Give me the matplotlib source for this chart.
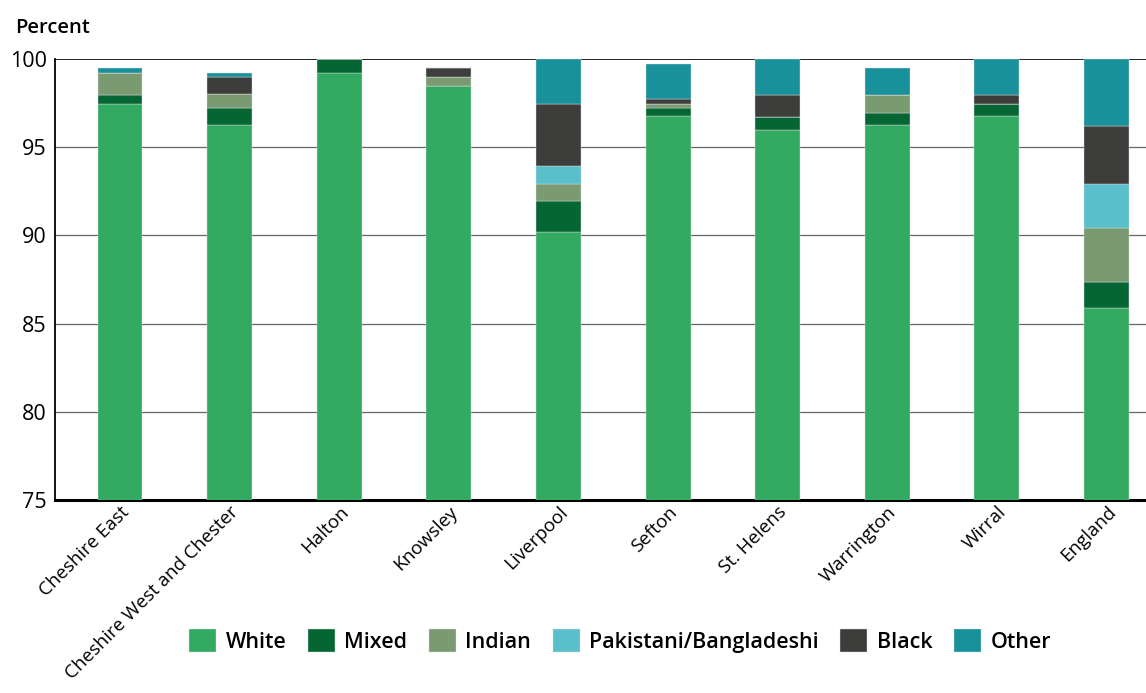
import numpy as np
import matplotlib
matplotlib.use("Agg")
from matplotlib import pyplot as plt

matplotlib.rcParams['font.family'] = ['Open Sans', 'DejaVu Sans']

# DATA ========================================================================
areas = ['Cheshire East', 'Cheshire West and Chester', 'Halton', 'Knowsley',
         'Liverpool', 'Sefton', 'St. Helens', 'Warrington', 'Wirral', 'England']

white     = [97.47, 96.23, 99.23, 98.48, 90.21, 96.74, 95.98, 96.23, 96.74, 85.90]
mixed     = [0.46, 0.98, 0.74, 0.00, 1.72, 0.47, 0.75, 0.72, 0.72, 1.47]
indian    = [1.29, 0.78, 0.00, 0.51, 1.00, 0.26, 0.00, 1.02, 0.00, 3.03]
pakistani = [0.00, 0.00, 0.00, 0.00, 1.03, 0.00, 0.00, 0.00, 0.00, 2.53]
black     = [0.00, 0.98, 0.00, 0.49, 3.50, 0.25, 1.22, 0.00, 0.49, 3.28]
other     = [0.26, 0.26, 0.00, 0.00, 2.51, 2.01, 2.02, 1.51, 2.02, 3.76]

series = [('White', white, '#33aa62'),
          ('Mixed', mixed, '#066633'),
          ('Indian', indian, '#7a9a72'),
          ('Pakistani/Bangladeshi', pakistani, '#58bfcb'),
          ('Black', black, '#3d3d3b'),
          ('Other', other, '#19919a')]

# PLOT ========================================================================
fig = plt.figure(figsize=(11.46, 6.93), dpi=100)
ax = fig.add_axes([0.048, 0.278, 0.952, 0.637])

v_x = np.arange(len(areas))
v_bottom = np.zeros(len(areas))
for name, vals, col in series:
    vals = np.array(vals)
    ax.bar(v_x, vals, 0.41, bottom=v_bottom, color=col, label=name,
           edgecolor='#dddddd', linewidth=0.3, zorder=3)
    v_bottom = v_bottom + vals

ax.set_ylim(75, 100)
ax.set_xlim(-0.593, 9.36)
ax.set_yticks([75, 80, 85, 90, 95, 100])
ax.tick_params(axis='y', length=0, labelsize=15.5, pad=6)
ax.tick_params(axis='x', length=0, labelsize=13.5, pad=2)
ax.set_xticks(v_x)
ax.set_xticklabels(areas, rotation=45, ha='right', rotation_mode='anchor')

for y in [80, 85, 90, 95]:
    ax.axhline(y, color='#666666', linewidth=0.9, zorder=1)
ax.axhline(100, color='#222222', linewidth=1.4, zorder=1)

for s in ['top', 'right']:
    ax.spines[s].set_visible(False)
ax.spines['left'].set_linewidth(1.3)
ax.spines['bottom'].set_linewidth(2.2)

fig.text(0.013, 0.96, 'Percent', fontsize=14.5, fontweight='semibold',
         ha='left', va='center')

leg = ax.legend(loc='center', bbox_to_anchor=(0.518, -0.318), ncol=6,
                frameon=False, prop={'size': 15.5, 'weight': 'semibold'},
                handlelength=1.25, handleheight=1.25,
                handletextpad=0.45, columnspacing=1.0)

fig.savefig('out.png', dpi=100)
